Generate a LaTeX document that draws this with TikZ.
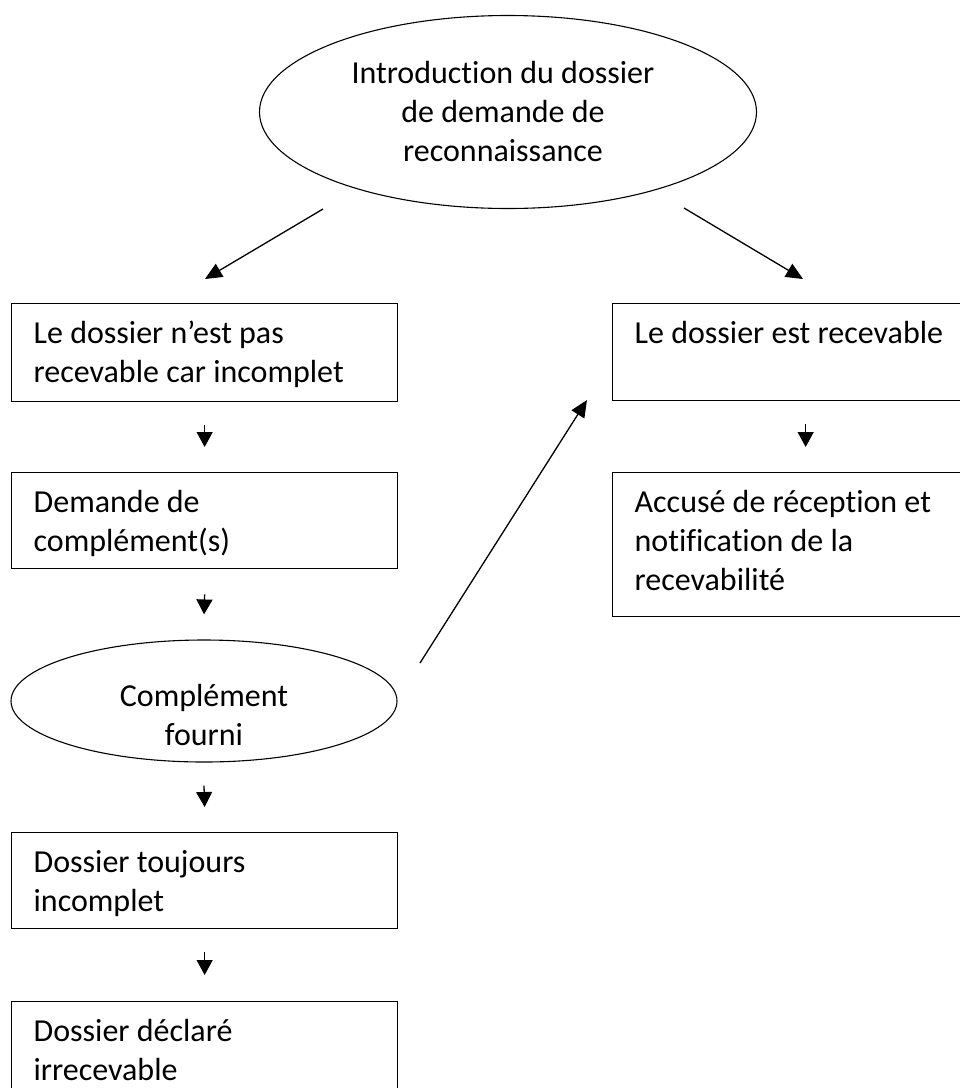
\documentclass[tikz,border=0pt]{standalone}
\usepackage{fontspec}
\setmainfont{Carlito}[Ligatures=NoCommon]
\usetikzlibrary{arrows.meta,shapes.geometric}
\newcommand\bxtext[3]{\parbox[t][#1][t]{#2}{\raggedright\leftskip=22pt\relax\rule{0pt}{40pt}#3}}
\begin{document}
\begin{tikzpicture}[x=1pt,y=-1pt,
  box/.style={draw, line width=1.3pt, inner sep=0pt, anchor=north west, font=\fontsize{32}{39}\selectfont},
  oval/.style={draw, ellipse, line width=1.1pt, inner sep=0pt},
  ovaltext/.style={align=center, font=\fontsize{32}{39}\selectfont, inner sep=0pt},
  arr/.style={line width=1.3pt, -{Triangle[length=15pt,width=16pt]}},
  darr/.style={line width=1.3pt, -{Triangle[length=17pt,width=15pt]}}]
\useasboundingbox (0,0) rectangle (960,1088);
% nodes
\node[oval, minimum width=497pt, minimum height=193pt,
  label={[ovaltext, xshift=-5pt]center:Introduction du dossier\\de demande de\\reconnaissance}] (intro) at (508,112) {};
\node[box] (b1) at (11,303) {\bxtext{98pt}{386pt}{Le dossier n’est pas\\recevable car incomplet}};
\node[box] (b2) at (11,472) {\bxtext{96pt}{386pt}{Demande de\\complément(s)}};
\node[oval, minimum width=386pt, minimum height=122pt,
  label={[ovaltext, yshift=-14pt]center:Complément\\fourni}] (ell2) at (204,701) {};
\node[box] (b4) at (11,832) {\bxtext{96pt}{386pt}{Dossier toujours\\incomplet}};
\node[box] (b5) at (11,1001) {\bxtext{100pt}{386pt}{Dossier déclaré\\irrecevable}};
\node[box] (rb1) at (612,303) {\bxtext{97pt}{386pt}{Le dossier est recevable}};
\node[box] (rb2) at (612,472) {\bxtext{144pt}{386pt}{Accusé de réception et\\notification de la\\recevabilité}};
% free ends of the diagonal connectors
\coordinate (l1s) at (323,209);
\coordinate (l1e) at (205,279);
\coordinate (r1s) at (684,208);
\coordinate (r1e) at (803,279);
\coordinate (ds) at (420,663);
\coordinate (de) at (587,400);
% connectors
\draw[darr] (l1s) -- (l1e);
\draw[darr] (r1s) -- (r1e);
\draw[darr] (ds) -- (de);
\draw[arr] ([yshift=-23pt]b1.south) -- ([yshift=25pt]b2.north);
\draw[arr] ([yshift=-25pt]b2.south) -- ([yshift=25pt]ell2.north);
\draw[arr] ([yshift=-23pt]ell2.south) -- ([yshift=25pt]b4.north);
\draw[arr] ([yshift=-23pt]b4.south) -- ([yshift=26pt]b5.north);
\draw[arr] ([yshift=-23pt]rb1.south) -- ([yshift=25pt]rb2.north);
\end{tikzpicture}
\end{document}
